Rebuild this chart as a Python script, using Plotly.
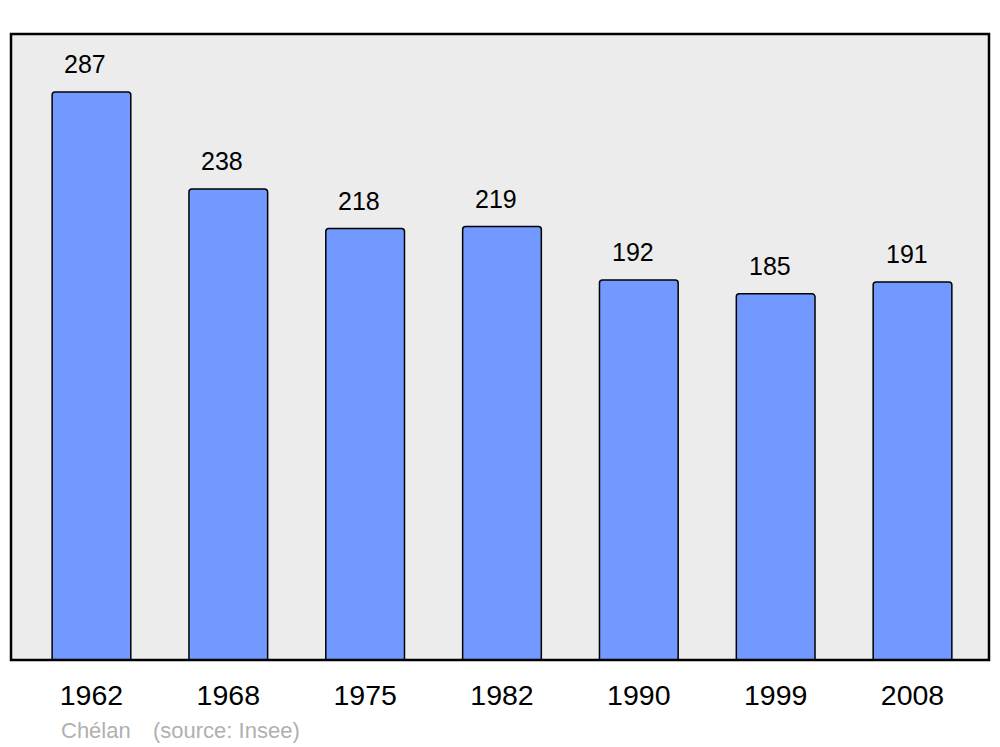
import plotly.graph_objects as go

years = ["1962", "1968", "1975", "1982", "1990", "1999", "2008"]
population = [287, 238, 218, 219, 192, 185, 191]
commune = "Chélan"
source = "(source: Insee)"

xpos = list(range(len(years)))

fig = go.Figure()
fig.add_trace(go.Bar(
    x=xpos, y=population, width=0.575,
    marker=dict(color="#7299ff", line=dict(color="#000000", width=1.5), cornerradius=3),
    hoverinfo="skip",
))

for i, v in zip(xpos, population):
    fig.add_annotation(x=i, y=v, text=str(v), showarrow=False, xshift=-6, yshift=28,
                       yanchor="middle", font=dict(family="Liberation Sans, Arial", size=25, color="#000000"))

fig.add_annotation(xref="paper", yref="paper", x=0, y=0, xanchor="left", yanchor="middle",
                   xshift=48, yshift=-70, text=commune, showarrow=False,
                   font=dict(family="Liberation Sans, Arial", size=22, color="#b0b0b0"))
fig.add_annotation(xref="paper", yref="paper", x=0, y=0, xanchor="left", yanchor="middle",
                   xshift=140, yshift=-70, text=source, showarrow=False,
                   font=dict(family="Liberation Sans, Arial", size=22, color="#b0b0b0"))

fig.add_shape(type="rect", xref="paper", yref="paper", x0=0, y0=0, x1=1, y1=1,
              line=dict(color="#000000", width=2.5), layer="above")

fig.update_layout(
    width=1000, height=747,
    margin=dict(l=11, r=11, t=34, b=87),
    paper_bgcolor="#ffffff", plot_bgcolor="#ececec",
    showlegend=False,
    xaxis=dict(range=[-0.588, 6.559], tickvals=xpos, ticktext=years, showgrid=False,
               zeroline=False, ticks="", ticklabelstandoff=15,
               tickfont=dict(family="Liberation Sans, Arial", size=28.5, color="#000000")),
    yaxis=dict(range=[0, 316.3], showgrid=False, zeroline=False, showticklabels=False, ticks=""),
)

fig.write_html("out.html", config={"displayModeBar": False},
               post_script="document.body.style.margin='0';document.body.style.overflow='hidden';")
